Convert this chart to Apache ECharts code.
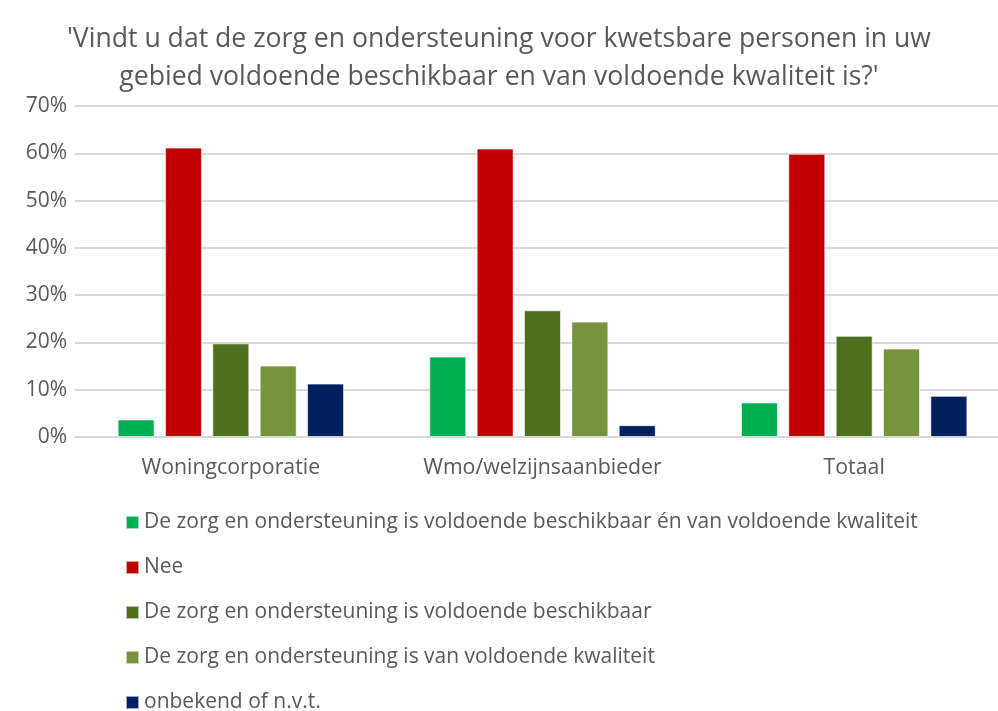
<!DOCTYPE html>
<html>
<head>
<meta charset="utf-8">
<script src="https://cdn.jsdelivr.net/npm/echarts@6/dist/echarts.min.js"></script>
<style>
  html, body { margin: 0; padding: 0; background: #fff; overflow: hidden; }
  /* iets breder dan het venster: de staven lopen in het origineel net zo ver door */
  #chart { width: 1012px; height: 711px; }
</style>
</head>
<body>
<div id="chart"></div>
<script>
// categorieen en waarden (in %)
const categories = ['Woningcorporatie', 'Wmo/welzijnsaanbieder', 'Totaal']
const seriesNames = [
  'De zorg en ondersteuning is voldoende beschikbaar én van voldoende kwaliteit',
  'Nee',
  'De zorg en ondersteuning is voldoende beschikbaar',
  'De zorg en ondersteuning is van voldoende kwaliteit',
  'onbekend of n.v.t.'
]
const beschikbaarEnKwaliteit = [3.7, 17.0, 7.3]
const nee = [61.2, 61.0, 59.9]
const beschikbaar = [19.8, 26.8, 21.4]
const kwaliteit = [15.1, 24.4, 18.7]
const onbekend = [11.3, 2.5, 8.7]
const yTicks = [0, 10, 20, 30, 40, 50, 60, 70]

const colors = ['#00B050', '#C00000', '#4F6F1F', '#77933C', '#002060']
const font = '"Open Sans", Lato, sans-serif'
const yMin = yTicks[0]
const yMax = yTicks[yTicks.length - 1]

const chart = echarts.init(document.getElementById('chart'))

const makeBar = (name, data) => ({
  name: name,
  type: 'bar',
  xAxisIndex: 1,
  yAxisIndex: 1,
  barWidth: 37,
  barGap: '28%',
  itemStyle: { borderColor: 'rgba(255,255,255,0.6)', borderWidth: 1 },
  data: data
})

// één legenda per regel, zodat alles onder elkaar blijft
const makeLegend = (name, i) => ({
  left: 125,
  top: 512 + i * 45,
  padding: 0,
  itemWidth: 13,
  itemHeight: 13,
  icon: 'rect',
  textStyle: { fontFamily: font, fontSize: 21, color: '#595959' },
  data: [name]
})

const option = {
  color: colors,
  animation: false,
  title: {
    text: "'Vindt u dat de zorg en ondersteuning voor kwetsbare personen in uw\ngebied voldoende beschikbaar en van voldoende kwaliteit is?'",
    left: 499,
    top: 20,
    padding: 0,
    textAlign: 'center',
    textStyle: { fontFamily: font, fontSize: 26.6, fontWeight: 'normal', color: '#595959', lineHeight: 38 }
  },
  legend: seriesNames.map(makeLegend),
  // grid 0: rasterlijnen en y-as, grid 1: de staven
  grid: [
    { left: 75, right: 14, top: 106, height: 331 },
    { left: 75, right: 2, top: 106, height: 331 }
  ],
  xAxis: [
    {
      gridIndex: 0,
      type: 'category',
      data: categories,
      axisLine: { lineStyle: { color: '#D9D9D9', width: 2 } },
      axisTick: { show: false },
      axisLabel: { show: false }
    },
    {
      gridIndex: 1,
      type: 'category',
      data: categories,
      axisLine: { show: false },
      axisTick: { show: false },
      axisLabel: { fontFamily: font, fontSize: 21.3, color: '#595959', margin: 20, interval: 0 }
    }
  ],
  yAxis: [
    {
      gridIndex: 0,
      type: 'value',
      min: yMin,
      max: yMax,
      interval: 10,
      axisLine: { show: false },
      axisTick: { show: false },
      splitLine: { lineStyle: { color: '#D9D9D9', width: 2 } },
      axisLabel: { fontFamily: font, fontSize: 21, color: '#595959', margin: 8, formatter: '{value}%' }
    },
    {
      gridIndex: 1,
      type: 'value',
      min: yMin,
      max: yMax,
      interval: 10,
      show: false,
      splitLine: { show: false }
    }
  ],
  series: [
    makeBar(seriesNames[0], beschikbaarEnKwaliteit),
    makeBar(seriesNames[1], nee),
    makeBar(seriesNames[2], beschikbaar),
    makeBar(seriesNames[3], kwaliteit),
    makeBar(seriesNames[4], onbekend)
  ]
}

chart.setOption(option)
</script>
</body>
</html>
